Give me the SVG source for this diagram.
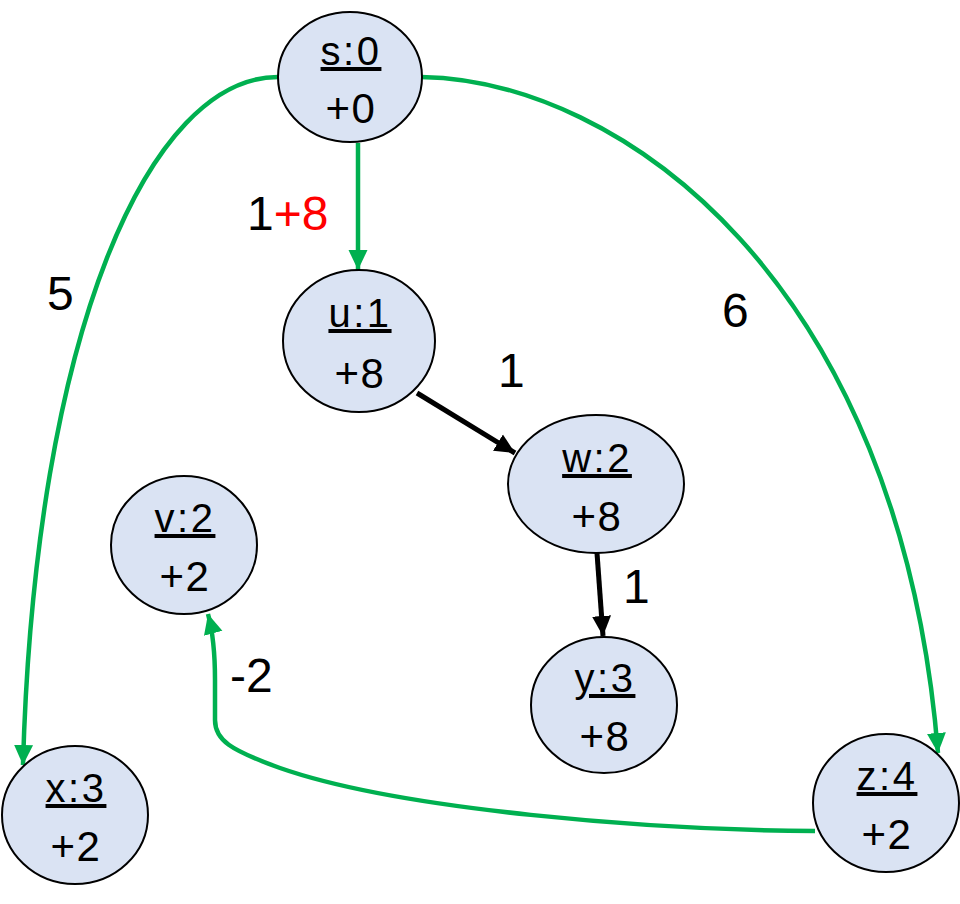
<svg xmlns="http://www.w3.org/2000/svg" width="960" height="904" viewBox="0 0 960 904">
<style>
.node ellipse{fill:#DAE3F3;stroke:#000;stroke-width:2}
.nt{font-family:"Liberation Sans",Arial,sans-serif;font-size:42px;fill:#000;text-anchor:middle;letter-spacing:1.5px}
.ul{text-decoration:underline;font-size:40px;letter-spacing:2.5px}
.el{font-family:"Liberation Sans",Arial,sans-serif;font-size:48px;fill:#000}
.g{fill:none;stroke:#00B050;stroke-width:4.5}
.b{fill:none;stroke:#000;stroke-width:5}
</style>
<defs>
<marker id="ag" markerUnits="userSpaceOnUse" markerWidth="22" markerHeight="22" viewBox="0 0 22 22" refX="20" refY="11" orient="auto"><path d="M0,1.5 L20,11 L0,20.5 Z" fill="#00B050"/></marker>
<marker id="ab" markerUnits="userSpaceOnUse" markerWidth="22" markerHeight="22" viewBox="0 0 22 22" refX="20" refY="11" orient="auto"><path d="M0,1.5 L20,11 L0,20.5 Z" fill="#000"/></marker>
</defs>
<g id="connectors">
<path id="e-s-u" class="g" d="M358,143 L358,270" marker-end="url(#ag)"/>
<path id="e-s-x" class="g" d="M278,77 C150,77 35,330 23,765" marker-end="url(#ag)"/>
<path id="e-s-z" class="g" d="M421,77 C620,80 900,280 938,753" marker-end="url(#ag)"/>
<path id="e-z-v" class="g" d="M815,831 C650,830 400,810 280,768 C230,750 215,740 215,720 L215,680 Q215,640 208,614" marker-end="url(#ag)"/>
<path id="e-u-w" class="b" d="M417,393 L515,453" marker-end="url(#ab)"/>
<path id="e-w-y" class="b" d="M597,553 L603,636" marker-end="url(#ab)"/>
</g>
<g id="edge-labels">
<text class="el" x="247" y="230">1<tspan fill="#FF0000">+8</tspan></text>
<text class="el" x="47" y="310">5</text>
<text class="el" x="722" y="327">6</text>
<text class="el" x="498" y="387">1</text>
<text class="el" x="623" y="603">1</text>
<text class="el" x="230" y="692">-2</text>
</g>
<g id="node-s" class="node"><ellipse cx="350" cy="77" rx="72" ry="65"/><text class="nt ul" x="351" y="65">s:0</text><text class="nt" x="351" y="123">+0</text></g>
<g id="node-u" class="node"><ellipse cx="359" cy="341" rx="76" ry="71"/><text class="nt ul" x="360" y="327">u:1</text><text class="nt" x="360" y="388">+8</text></g>
<g id="node-w" class="node"><ellipse cx="596" cy="484" rx="88" ry="69"/><text class="nt ul" x="597" y="472">w:2</text><text class="nt" x="597" y="531">+8</text></g>
<g id="node-v" class="node"><ellipse cx="184" cy="545" rx="73" ry="69"/><text class="nt ul" x="185" y="532">v:2</text><text class="nt" x="185" y="591">+2</text></g>
<g id="node-y" class="node"><ellipse cx="604" cy="705" rx="73" ry="68"/><text class="nt ul" x="605" y="692">y:3</text><text class="nt" x="605" y="751">+8</text></g>
<g id="node-x" class="node"><ellipse cx="75" cy="815" rx="73" ry="69"/><text class="nt ul" x="76" y="802">x:3</text><text class="nt" x="76" y="861">+2</text></g>
<g id="node-z" class="node"><ellipse cx="886" cy="803" rx="73" ry="69"/><text class="nt ul" x="887" y="790">z:4</text><text class="nt" x="887" y="849">+2</text></g>
</svg>
